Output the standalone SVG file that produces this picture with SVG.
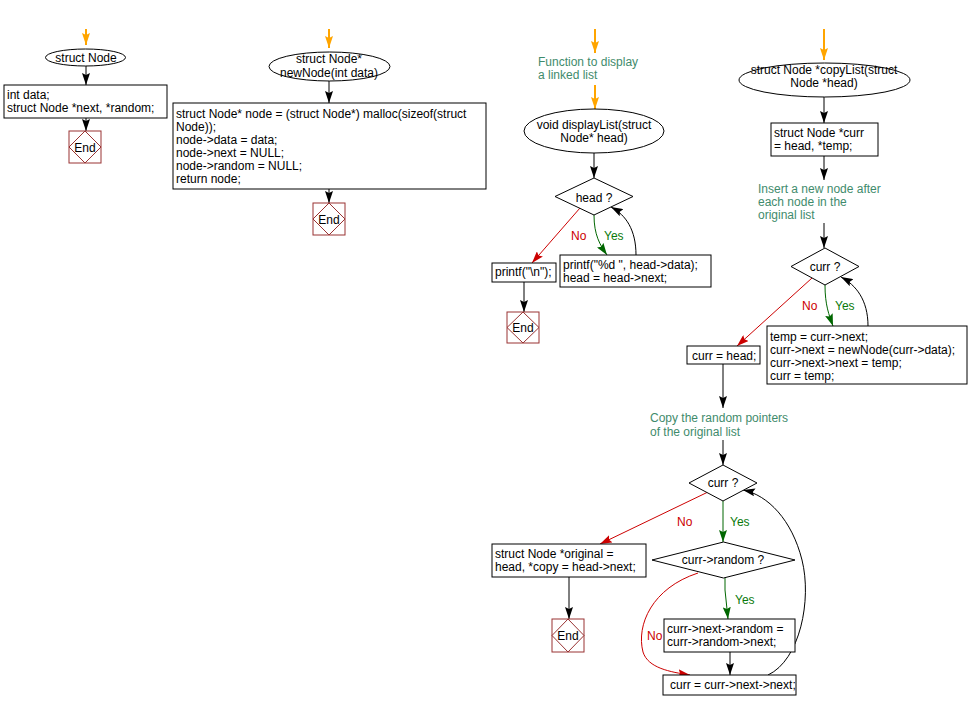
<svg xmlns="http://www.w3.org/2000/svg" width="968" height="708" viewBox="0 0 968 708">
<defs>
<style>
text{font-family:"Liberation Sans",Arial,sans-serif;font-size:12px;fill:#000}
.c{text-anchor:middle}
.cm{fill:#3f8b6c}
.no{fill:#cc0000}
.yes{fill:#0a7a0a}
.box{fill:#fff;stroke:#000;stroke-width:1}
.end{fill:#fff;stroke:#993333;stroke-width:1}
.dia{fill:none;stroke:#993333;stroke-width:1}
.k{fill:none;stroke:#000;stroke-width:1}
.o{fill:none;stroke:#ffa500;stroke-width:2}
.r{fill:none;stroke:#cc0000;stroke-width:1}
.g{fill:none;stroke:#006600;stroke-width:1}
</style>
<marker id="ak" markerUnits="userSpaceOnUse" markerWidth="12" markerHeight="8" viewBox="0 0 12 8" refX="12" refY="4" orient="auto"><path d="M0,0 L12,4 L0,8 L2,4 Z" fill="#000"/></marker>
<marker id="ao" markerUnits="userSpaceOnUse" markerWidth="12" markerHeight="8" viewBox="0 0 12 8" refX="12" refY="4" orient="auto"><path d="M0,0 L12,4 L0,8 L2,4 Z" fill="#ffa500"/></marker>
<marker id="ar" markerUnits="userSpaceOnUse" markerWidth="12" markerHeight="8" viewBox="0 0 12 8" refX="12" refY="4" orient="auto"><path d="M0,0 L12,4 L0,8 L2,4 Z" fill="#cc0000"/></marker>
<marker id="ag" markerUnits="userSpaceOnUse" markerWidth="12" markerHeight="8" viewBox="0 0 12 8" refX="12" refY="4" orient="auto"><path d="M0,0 L12,4 L0,8 L2,4 Z" fill="#006600"/></marker>
</defs>
<rect width="968" height="708" fill="#fff"/>

<g id="connectors">
<path class="o" d="M86,29 L86,45" marker-end="url(#ao)"/>
<path class="k" d="M86,66 L86,85" marker-end="url(#ak)"/>
<path class="k" d="M86,118 L86,131" marker-end="url(#ak)"/>
<path class="o" d="M329,29 L329,48" marker-end="url(#ao)"/>
<path class="k" d="M329,81 L329,103" marker-end="url(#ak)"/>
<path class="k" d="M329,189 L329,203" marker-end="url(#ak)"/>
<path class="o" d="M595,29 L595,53" marker-end="url(#ao)"/>
<path class="o" d="M595,85 L595,109" marker-end="url(#ao)"/>
<path class="k" d="M594,153 L594,178" marker-end="url(#ak)"/>
<path class="r" d="M580,208 L532,263" marker-end="url(#ar)"/>
<path class="g" d="M594,215 C594,235 600,245 607,255" marker-end="url(#ag)"/>
<path class="k" d="M636,255 C636,230 626,215 611,207" marker-end="url(#ak)"/>
<path class="k" d="M524,282 L524,312" marker-end="url(#ak)"/>
<path class="o" d="M824,29 L824,60" marker-end="url(#ao)"/>
<path class="k" d="M824,97 L824,123" marker-end="url(#ak)"/>
<path class="k" d="M824,156 L824,180" marker-end="url(#ak)"/>
<path class="k" d="M824,223 L824,248" marker-end="url(#ak)"/>
<path class="r" d="M812,278 L737,346" marker-end="url(#ar)"/>
<path class="g" d="M825,285 C825,305 829,315 833,326" marker-end="url(#ag)"/>
<path class="k" d="M868,326 C868,300 856,285 841,277" marker-end="url(#ak)"/>
<path class="k" d="M723,364 L723,408" marker-end="url(#ak)"/>
<path class="k" d="M723,440 L723,465" marker-end="url(#ak)"/>
<path class="r" d="M708,492 L600,544" marker-end="url(#ar)"/>
<path class="g" d="M723,501 L723,542" marker-end="url(#ag)"/>
<path class="g" d="M725,578 L725,590 L728,619" marker-end="url(#ag)"/>
<path class="r" d="M698,573 C652,588 636,625 643,652 C648,668 670,672 690,675" marker-end="url(#ar)"/>
<path class="k" d="M730,652 L730,675" marker-end="url(#ak)"/>
<path class="k" d="M768,675 C800,660 812,600 802,560 C792,520 768,495 743,490" marker-end="url(#ak)"/>
<path class="k" d="M569,577 L569,619" marker-end="url(#ak)"/>
</g>

<g id="struct-node">
<ellipse cx="85.5" cy="57.5" rx="40" ry="8.5" class="box"/>
<text x="86" y="62" class="c">struct Node</text>
</g>
<g id="struct-body">
<rect x="4" y="85" width="163" height="33" class="box"/>
<text x="7" y="99">int data;</text>
<text x="7" y="112">struct Node *next, *random;</text>
</g>
<g id="end1">
<rect x="69" y="131" width="32" height="32" class="end"/>
<path d="M85,131 L101,147 L85,163 L69,147 Z" class="dia"/>
<text x="85" y="152" class="c">End</text>
</g>

<g id="newnode">
<ellipse cx="329.5" cy="66.5" rx="60.5" ry="14.5" class="box"/>
<text x="329" y="63" class="c">struct Node*</text>
<text x="329" y="77" class="c">newNode(int data)</text>
</g>
<g id="newnode-body">
<rect x="173" y="103" width="313" height="86" class="box"/>
<text x="176" y="118">struct Node* node = (struct Node*) malloc(sizeof(struct</text>
<text x="176" y="131">Node));</text>
<text x="176" y="144">node-&gt;data = data;</text>
<text x="176" y="157">node-&gt;next = NULL;</text>
<text x="176" y="170">node-&gt;random = NULL;</text>
<text x="176" y="183">return node;</text>
</g>
<g id="end2">
<rect x="313" y="203" width="32" height="32" class="end"/>
<path d="M329,203 L345,219 L329,235 L313,219 Z" class="dia"/>
<text x="329" y="224" class="c">End</text>
</g>

<g id="comment1">
<text x="538" y="66" class="cm">Function to display</text>
<text x="538" y="79" class="cm">a linked list</text>
</g>
<g id="displaylist">
<ellipse cx="594" cy="131" rx="70" ry="22" class="box"/>
<text x="594" y="129" class="c">void displayList(struct</text>
<text x="594" y="142" class="c">Node* head)</text>
</g>
<g id="head-q">
<path d="M594,178 L633,196.5 L594,215 L555,196.5 Z" class="box"/>
<text x="594" y="202" class="c">head ?</text>
<text x="571" y="240" class="no">No</text>
<text x="604" y="240" class="yes">Yes</text>
</g>
<g id="printf-nl">
<rect x="492" y="263" width="64" height="19" class="box"/>
<text x="495" y="276">printf("\n");</text>
</g>
<g id="printf-data">
<rect x="560" y="255" width="151" height="32" class="box"/>
<text x="563" y="269">printf("%d ", head-&gt;data);</text>
<text x="563" y="282">head = head-&gt;next;</text>
</g>
<g id="end3">
<rect x="507" y="312" width="32" height="31" class="end"/>
<path d="M523,312 L539,327.5 L523,343 L507,327.5 Z" class="dia"/>
<text x="523" y="332" class="c">End</text>
</g>

<g id="copylist">
<ellipse cx="824.5" cy="80" rx="85.5" ry="17" class="box"/>
<text x="824" y="74" class="c">struct Node *copyList(struct</text>
<text x="824" y="87" class="c">Node *head)</text>
</g>
<g id="curr-decl">
<rect x="771" y="123" width="107" height="33" class="box"/>
<text x="774" y="137">struct Node *curr</text>
<text x="774" y="150">= head, *temp;</text>
</g>
<g id="comment2">
<text x="758" y="193" class="cm">Insert a new node after</text>
<text x="758" y="206" class="cm">each node in the</text>
<text x="758" y="219" class="cm">original list</text>
</g>
<g id="curr-q1">
<path d="M825,248 L859,266.5 L825,285 L791,266.5 Z" class="box"/>
<text x="825" y="271" class="c">curr ?</text>
<text x="802" y="310" class="no">No</text>
<text x="835" y="310" class="yes">Yes</text>
</g>
<g id="insert-body">
<rect x="767" y="326" width="200" height="58" class="box"/>
<text x="770" y="341">temp = curr-&gt;next;</text>
<text x="770" y="354">curr-&gt;next = newNode(curr-&gt;data);</text>
<text x="770" y="367">curr-&gt;next-&gt;next = temp;</text>
<text x="770" y="380">curr = temp;</text>
</g>
<g id="curr-head">
<rect x="687" y="346" width="73" height="18" class="box"/>
<text x="692" y="360">curr = head;</text>
</g>
<g id="comment3">
<text x="650" y="422" class="cm">Copy the random pointers</text>
<text x="650" y="436" class="cm">of the original list</text>
</g>
<g id="curr-q2">
<path d="M723,465 L757,483 L723,501 L689,483 Z" class="box"/>
<text x="723" y="487" class="c">curr ?</text>
<text x="677" y="526" class="no">No</text>
<text x="730" y="526" class="yes">Yes</text>
</g>
<g id="random-q">
<path d="M723.5,542 L795,560 L723.5,578 L652,560 Z" class="box"/>
<text x="723" y="564" class="c">curr-&gt;random ?</text>
<text x="735" y="604" class="yes">Yes</text>
<text x="647" y="640" class="no">No</text>
</g>
<g id="original-decl">
<rect x="492" y="544" width="154" height="33" class="box"/>
<text x="495" y="558">struct Node *original =</text>
<text x="495" y="571">head, *copy = head-&gt;next;</text>
</g>
<g id="end4">
<rect x="552" y="619" width="32" height="33" class="end"/>
<path d="M568,619 L584,635.5 L568,652 L552,635.5 Z" class="dia"/>
<text x="568" y="640" class="c">End</text>
</g>
<g id="random-assign">
<rect x="664" y="619" width="131" height="33" class="box"/>
<text x="667" y="633">curr-&gt;next-&gt;random =</text>
<text x="667" y="646">curr-&gt;random-&gt;next;</text>
</g>
<g id="curr-advance">
<rect x="663" y="675" width="133" height="20" class="box"/>
<text x="670" y="689">curr = curr-&gt;next-&gt;next;</text>
</g>
</svg>
